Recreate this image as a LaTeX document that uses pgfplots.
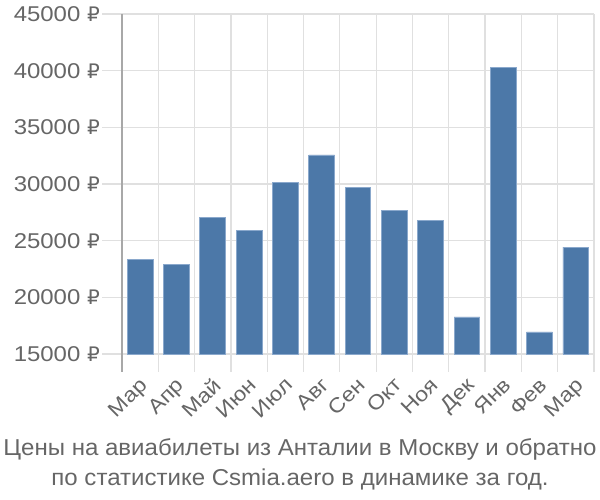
\documentclass[border=0pt]{standalone}
\usepackage{pgfplots}
\pgfplotsset{compat=1.18}
\usepackage{fontspec}
\setmainfont{Liberation Sans}
\newfontfamily\tickfont[FakeStretch=1.12]{Liberation Sans}
\newfontfamily\titlefont[FakeStretch=1.045]{Liberation Sans}
\newfontfamily\rubfont{DejaVu Sans}
\definecolor{barblue}{HTML}{4C78A8}
\definecolor{baredge}{HTML}{8AA8CC}
\definecolor{txt}{HTML}{666666}
\definecolor{gridc}{HTML}{E0E0E0}
\definecolor{axc}{HTML}{A8A8A8}
\begin{document}
\begin{tikzpicture}
\path[use as bounding box] (-122bp,-146bp) rectangle (478bp,354bp);
\begin{axis}[
  at={(0,0)}, anchor=south west,
  scale only axis,
  width=472bp, height=340bp,
  xmin=-0.5, xmax=12.5,
  ymin=15000, ymax=45000,
  scaled y ticks=false,
  xtick={0,...,12},
  xticklabels={Мар,Апр,Май,Июн,Июл,Авг,Сен,Окт,Ноя,Дек,Янв,Фев,Мар},
  minor xtick={-0.5,0.5,...,12.5},
  ytick={15000,20000,...,45000},
  xtick pos=lower, ytick pos=left,
  tick align=outside,
  major x tick style={draw=none},
  minor x tick style={draw=gridc, line width=1.3bp},
  minor tick length=18bp,
  major y tick style={draw=gridc, line width=1.3bp},
  major tick length=20bp,
  xmajorgrids=false, xminorgrids=true, ymajorgrids=true,
  minor grid style={draw=gridc, line width=1.3bp},
  major grid style={draw=gridc, line width=1.3bp},
  axis line style={draw=none},
  /pgf/number format/assume math mode=true,
  /pgf/number format/1000 sep={},
  yticklabel={\pgfmathprintnumber{\tick}~{\rubfont\fontsize{20bp}{24bp}\selectfont ₽}},
  yticklabel style={font=\tickfont\fontsize{21.4bp}{24bp}\selectfont, text=txt, inner sep=2bp},
  xticklabel style={font=\tickfont\fontsize{20.5bp}{24bp}\selectfont, text=txt, rotate=45, anchor=north east, inner sep=0.5bp, xshift=-2bp},
  clip=false,
]
\addplot[ybar, bar width=0.71, bar shift=0pt, fill=barblue, draw=baredge, line width=0.8bp]
  coordinates {
  (0,23380) (1,22940) (2,27050) (3,25890) (4,30100) (5,32560) (6,29670)
  (7,27700) (8,26760) (9,18270) (10,40300) (11,16950) (12,24420)};
\draw[axc, line width=1.3bp] (rel axis cs:0,1) -- ([yshift=-18bp]rel axis cs:0,0);
\end{axis}
\node[anchor=base, text=txt, font=\titlefont\fontsize{23bp}{30bp}\selectfont, align=center, inner sep=0pt]
  at (178bp,-131bp) {Цены на авиабилеты из Анталии в Москву и обратно\\по статистике Csmia.aero в динамике за год.};
\end{tikzpicture}
\end{document}
